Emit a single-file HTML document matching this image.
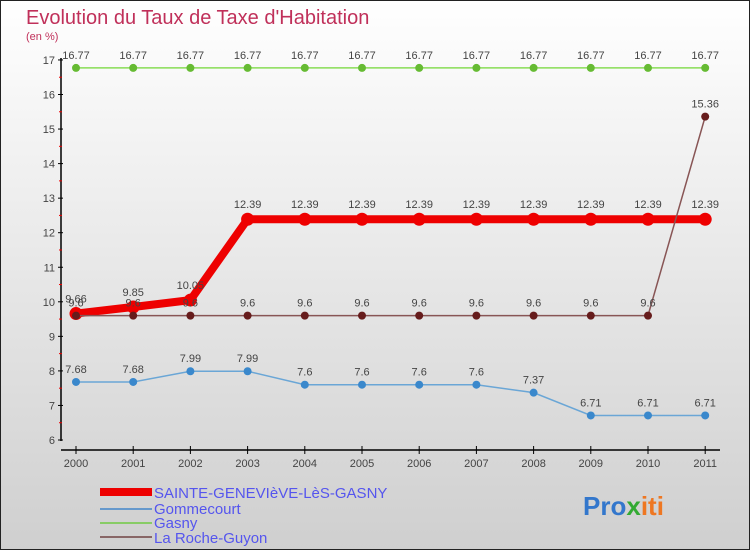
<!DOCTYPE html>
<html><head><meta charset="utf-8"><style>
body{margin:0}
#c{width:750px;height:550px;position:relative;overflow:hidden;background:linear-gradient(#ffffff,#cfcfcf);font-family:"Liberation Sans",sans-serif}
</style></head><body>
<div id="c">
<svg id="s" width="750" height="550" style="position:absolute;left:0;top:0">
<rect x="0.5" y="0.5" width="749" height="549" fill="none" stroke="#222"/>
<text x="26" y="24" font-size="20" fill="#c0305a">Evolution du Taux de Taxe d'Habitation</text>
<text x="26" y="40" font-size="11" fill="#c0305a">(en %)</text>
<g id="axes"></g><g id="series"></g>
<g>
<rect x="100" y="488" width="52" height="8" fill="#ee0000"/>
<text x="154" y="498" font-size="15" fill="#5555ee">SAINTE-GENEVIèVE-LèS-GASNY</text>
<rect x="100" y="508" width="52" height="2" fill="#6699cc"/>
<text x="154" y="514" font-size="15" fill="#5555ee">Gommecourt</text>
<rect x="100" y="522" width="52" height="2" fill="#88cc66"/>
<text x="154" y="528" font-size="15" fill="#5555ee">Gasny</text>
<rect x="100" y="536" width="52" height="2" fill="#886666"/>
<text x="154" y="543" font-size="15" fill="#5555ee">La Roche-Guyon</text>
</g>
<text x="583" y="515" font-size="26" font-weight="bold"><tspan fill="#3377cc">Pro</tspan><tspan fill="#33aa33">x</tspan><tspan fill="#ee7722">iti</tspan></text>
</svg>
</div>
<script>
const years=[2000,2001,2002,2003,2004,2005,2006,2007,2008,2009,2010,2011];
const yTicks=[6,7,8,9,10,11,12,13,14,15,16,17];
const sainte=[9.66,9.85,10.05,12.39,12.39,12.39,12.39,12.39,12.39,12.39,12.39,12.39];
const gommecourt=[7.68,7.68,7.99,7.99,7.6,7.6,7.6,7.6,7.37,6.71,6.71,6.71];
const gasny=[16.77,16.77,16.77,16.77,16.77,16.77,16.77,16.77,16.77,16.77,16.77,16.77];
const laroche=[9.6,9.6,9.6,9.6,9.6,9.6,9.6,9.6,9.6,9.6,9.6,15.36];
const NS="http://www.w3.org/2000/svg";
const xS=i=>76+i*57.2;
const yS=v=>440-(v-6)*34.55;
function mk(t,a,p){const e=document.createElementNS(NS,t);for(const k in a)e.setAttribute(k,a[k]);p.appendChild(e);return e;}
const ax=document.getElementById('axes');
let l=mk('line',{x1:61,y1:58,x2:61,y2:441,stroke:'#000','stroke-width':1.5},ax);


l=mk('line',{x1:61,y1:450,x2:720,y2:450,stroke:'#000','stroke-width':1.5},ax);


yTicks.forEach((v,i)=>{
 mk('line',{x1:58,y1:yS(v),x2:63,y2:yS(v),stroke:'#000'},ax);
 if(i<yTicks.length-1)mk('line',{x1:59,y1:yS(v+0.5),x2:62,y2:yS(v+0.5),stroke:'#e00'},ax);
 const t=mk('text',{x:55,y:yS(v)+4,'font-size':11,fill:'#444','text-anchor':'end'},ax);t.textContent=v;
 
 
});
years.forEach((y,i)=>{
 mk('line',{x1:xS(i),y1:446,x2:xS(i),y2:454,stroke:'#000'},ax);
 const t=mk('text',{x:xS(i),y:467,'font-size':11,fill:'#444','text-anchor':'middle'},ax);t.textContent=y;
 
 
});
const sg=document.getElementById('series');
function draw(vals,color,dot,lw,r,name,lblOff){
 const g=mk('g',{},sg);
 
 
 const p=mk('polyline',{points:vals.map((v,i)=>xS(i)+','+yS(v)).join(' '),fill:'none',stroke:color,'stroke-width':lw},g);
 
 
 vals.forEach((v,i)=>{
  const c=mk('circle',{cx:xS(i),cy:yS(v),r:r,fill:dot},g);
  
  
  const t=mk('text',{x:xS(i),y:yS(v)-lblOff,'font-size':11,fill:'#444','text-anchor':'middle'},g);t.textContent=v;
  
  
 });
}
draw(gommecourt,'#6aa6d6','#3a88cc',1.5,4,'gommecourt',9);
draw(gasny,'#88dd55','#66bb33',1.5,4,'gasny',9);
draw(sainte,'#ee0000','#ee0000',8,6.5,'sainte',11);
draw(laroche,'#885555','#661c1c',1.5,4,'laroche',9);
</script>
</body></html>
